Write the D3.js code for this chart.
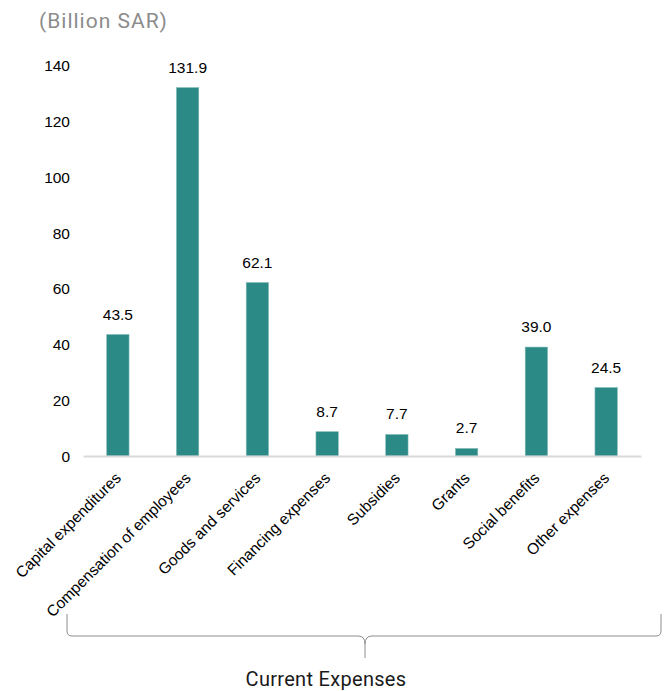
<!DOCTYPE html>
<html>
  <head>
    <meta charset="UTF-8" />
    <style>
      body { margin: 0; background: #fff; }
      svg { display: block; }
    </style>
  </head>
  <body>
    <svg></svg>
    <script src="https://d3js.org/d3.v7.min.js"></script>
    <script>
      const categories = [
        "Capital expenditures",
        "Compensation of employees",
        "Goods and services",
        "Financing expenses",
        "Subsidies",
        "Grants",
        "Social benefits",
        "Other expenses",
      ];
      const values = [43.5, 131.9, 62.1, 8.7, 7.7, 2.7, 39.0, 24.5];
      const yTicks = [0, 20, 40, 60, 80, 100, 120, 140];

      const width = 669, height = 691;
      const svg = d3.select("svg").attr("width", width).attr("height", height);
      const labelFont = "'Liberation Sans', Arial, sans-serif";

      const x = d3.scaleBand().domain(categories).range([83, 641]).paddingInner(0.68).paddingOuter(0.34);
      const y = d3.scaleLinear().domain([0, 140]).range([456, 65]);

      // title
      svg.append("text")
        .attr("x", 39).attr("y", 28)
        .attr("font-family", "Roboto, 'Noto Sans', sans-serif")
        .attr("font-size", 21)
        .attr("letter-spacing", 1.0)
        .attr("fill", "#8c8c8c")
        .text("(Billion SAR)");

      // y axis labels only
      const yAxis = svg.append("g")
        .attr("transform", "translate(70,0)")
        .call(d3.axisLeft(y).tickValues(yTicks).tickSize(0).tickPadding(0));
      yAxis.select(".domain").remove();
      yAxis.selectAll(".tick text")
        .attr("dy", "0.35em")
        .attr("font-family", labelFont)
        .attr("font-size", 15.5)
        .attr("fill", "#000");

      // bars
      svg.append("g")
        .selectAll("rect")
        .data(values)
        .join("rect")
        .attr("x", (d, i) => x(categories[i]))
        .attr("width", x.bandwidth())
        .attr("y", d => y(d))
        .attr("height", d => y(0) - y(d))
        .attr("fill", "#2b8986")
        .attr("stroke", "#7fb9b6")
        .attr("stroke-width", 0.6);

      // value labels
      svg.append("g")
        .selectAll("text")
        .data(values)
        .join("text")
        .attr("x", (d, i) => x(categories[i]) + x.bandwidth() / 2)
        .attr("y", d => y(d) - 15)
        .attr("text-anchor", "middle")
        .attr("font-family", labelFont)
        .attr("font-size", 15.5)
        .text(d => d.toFixed(1));

      // x axis line + rotated labels
      const xAxis = svg.append("g")
        .attr("transform", "translate(0,456)")
        .call(d3.axisBottom(x).tickSize(0));
      xAxis.select(".domain").attr("stroke", "#d9d9d9").attr("stroke-width", 2);
      xAxis.selectAll(".tick text")
        .attr("text-anchor", "end")
        .attr("font-family", labelFont)
        .attr("font-size", 15.5)
        .attr("fill", "#000")
        .attr("transform", "translate(4,23) rotate(-45)")
        .attr("dy", 0)
        .attr("y", 0)
        .attr("x", 0);

      // brace under categories
      const bx0 = 67, bx1 = 661, bTop = 614, bBot = 636, mid = 365, tip = 658, r = 5;
      const brace = d3.path();
      brace.moveTo(bx0, bTop);
      brace.lineTo(bx0, bBot - r);
      brace.quadraticCurveTo(bx0, bBot, bx0 + r, bBot);
      brace.lineTo(mid - 7, bBot);
      brace.quadraticCurveTo(mid, bBot, mid, bBot + 8);
      brace.lineTo(mid, tip);
      brace.moveTo(mid, bBot + 8);
      brace.quadraticCurveTo(mid, bBot, mid + 7, bBot);
      brace.lineTo(bx1 - r, bBot);
      brace.quadraticCurveTo(bx1, bBot, bx1, bBot - r);
      brace.lineTo(bx1, bTop);
      svg.append("path")
        .attr("d", brace.toString())
        .attr("fill", "none")
        .attr("stroke", "#8c8c8c")
        .attr("stroke-width", 1);

      svg.append("text")
        .attr("x", 326).attr("y", 686)
        .attr("text-anchor", "middle")
        .attr("font-family", "Roboto, 'Noto Sans', sans-serif")
        .attr("font-size", 20)
        .attr("letter-spacing", 0.3)
        .attr("fill", "#1a1a1a")
        .text("Current Expenses");
    </script>
  </body>
</html>
